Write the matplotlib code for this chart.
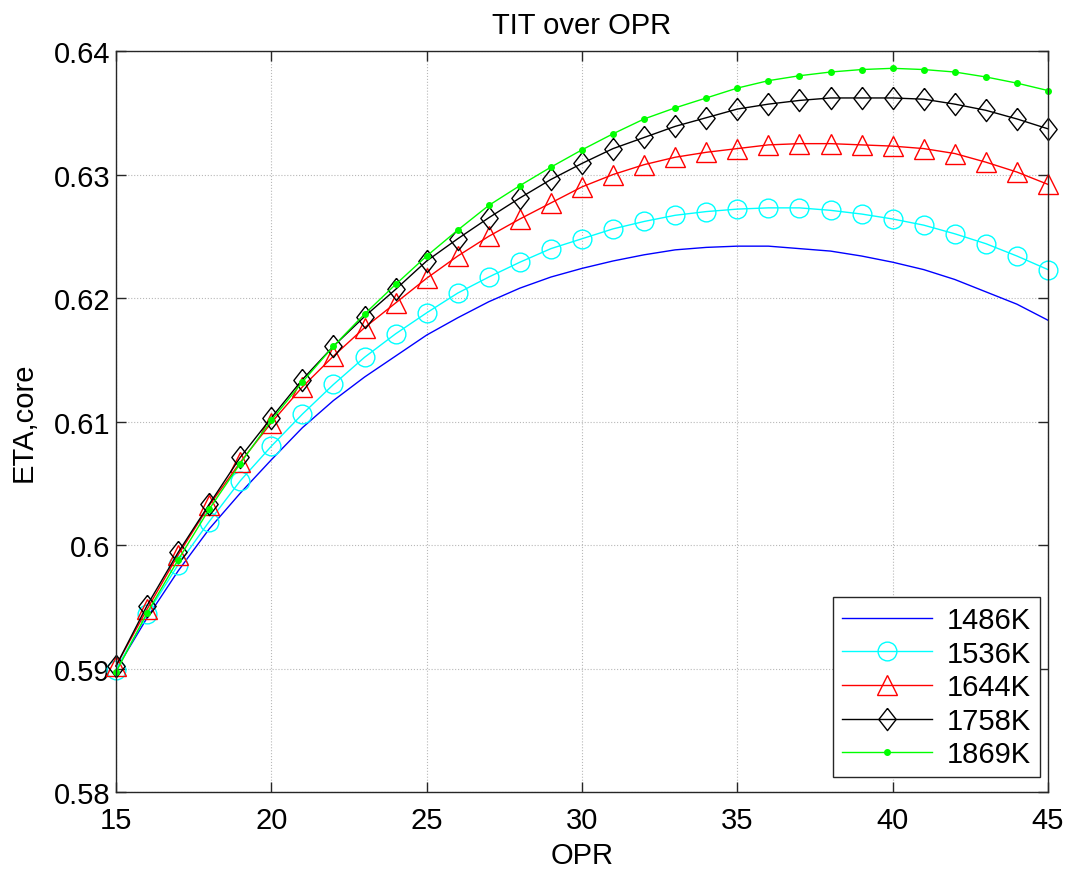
import numpy as np
import matplotlib
matplotlib.use("Agg")
import matplotlib.pyplot as plt

plt.rcParams['font.family'] = ['Liberation Sans', 'DejaVu Sans']

# OPR values 15..45
opr = list(range(15, 46))

eta_1486 = [0.5899, 0.5941, 0.5979, 0.6013, 0.6042, 0.6069, 0.6095, 0.6117, 0.6136, 0.6153,
            0.6170, 0.6184, 0.6197, 0.6208, 0.6217, 0.6224, 0.6230, 0.6235, 0.6239, 0.6241,
            0.6242, 0.6242, 0.6240, 0.6238, 0.6234, 0.6229, 0.6223, 0.6215, 0.6205, 0.6195,
            0.6182]
eta_1536 = [0.5899, 0.5944, 0.5984, 0.6019, 0.6052, 0.6080, 0.6106, 0.6130, 0.6152, 0.6171,
            0.6188, 0.6204, 0.6217, 0.6229, 0.6240, 0.6248, 0.6256, 0.6262, 0.6267, 0.6270,
            0.6272, 0.6273, 0.6273, 0.6271, 0.6268, 0.6264, 0.6259, 0.6252, 0.6244, 0.6234,
            0.6223]
eta_1644 = [0.5902, 0.5948, 0.5992, 0.6032, 0.6067, 0.6099, 0.6128, 0.6153, 0.6176, 0.6196,
            0.6216, 0.6234, 0.6250, 0.6264, 0.6277, 0.6290, 0.6300, 0.6308, 0.6314, 0.6318,
            0.6321, 0.6324, 0.6325, 0.6325, 0.6324, 0.6323, 0.6321, 0.6317, 0.6310, 0.6302,
            0.6292]
eta_1758 = [0.5902, 0.5951, 0.5994, 0.6033, 0.6071, 0.6103, 0.6134, 0.6161, 0.6185, 0.6207,
            0.6230, 0.6248, 0.6265, 0.6281, 0.6296, 0.6309, 0.6321, 0.6330, 0.6339, 0.6346,
            0.6353, 0.6357, 0.6360, 0.6362, 0.6362, 0.6362, 0.6361, 0.6357, 0.6352, 0.6345,
            0.6337]
eta_1869 = [0.5897, 0.5945, 0.5988, 0.6029, 0.6066, 0.6101, 0.6132, 0.6161, 0.6187, 0.6211,
            0.6234, 0.6255, 0.6275, 0.6291, 0.6306, 0.6320, 0.6333, 0.6345, 0.6354, 0.6362,
            0.6370, 0.6376, 0.6380, 0.6383, 0.6385, 0.6386, 0.6385, 0.6383, 0.6379, 0.6374,
            0.6368]

labels = ["1486K", "1536K", "1644K", "1758K", "1869K"]

# matlab style diamond (taller than wide)
diamond = [(0, 1), (0.78, 0), (0, -1), (-0.78, 0), (0, 1)]

fig = plt.figure(figsize=(10.75, 8.7), dpi=100)
ax = fig.add_axes([0.1079, 0.0885, 0.8670, 0.8517])

ax.plot(opr, eta_1486, color="#0000ff", lw=1.0, label=labels[0])
ax.plot(opr, eta_1536, color="#00ffff", lw=1.0, marker="o", markersize=13.5,
        markerfacecolor="none", markeredgewidth=1.0, label=labels[1], clip_on=False)
ax.plot(opr, eta_1644, color="#ff0000", lw=1.0, marker="^", markersize=14,
        markerfacecolor="none", markeredgewidth=1.0, label=labels[2], clip_on=False)
ax.plot(opr, eta_1758, color="#000000", lw=1.0, marker=diamond, markersize=16,
        markerfacecolor="none", markeredgewidth=1.0, label=labels[3], clip_on=False)
ax.plot(opr, eta_1869, color="#00ff00", lw=1.0, marker=".", markersize=8,
        label=labels[4], clip_on=False)

ax.set_xlim(15, 45)
ax.set_ylim(0.58, 0.64)
ax.set_xticks([15, 20, 25, 30, 35, 40, 45])
ax.set_yticks([0.58, 0.59, 0.6, 0.61, 0.62, 0.63, 0.64])
ax.set_yticklabels(["0.58", "0.59", "0.6", "0.61", "0.62", "0.63", "0.64"])

ax.tick_params(direction="in", length=7, width=1, top=True, right=True,
               labelsize=21, colors="#262626", labelcolor="black")
ax.tick_params(axis="x", pad=10)
ax.tick_params(axis="y", pad=4)
for s in ax.spines.values():
    s.set_color("#262626")
    s.set_linewidth(1.0)

ax.grid(True, color="#b8b8b8", linestyle=":", linewidth=0.8)

ax.set_title("TIT over OPR", fontsize=21, pad=13)
ax.set_xlabel("OPR", fontsize=21, labelpad=5)
ax.set_ylabel("ETA,core", fontsize=21, labelpad=12)

leg = ax.legend(loc="lower right", bbox_to_anchor=(1 - 8 / 932, 15 / 741),
                fontsize=21, fancybox=False, framealpha=1, edgecolor="#262626",
                handlelength=3.1, borderaxespad=0, labelspacing=0.19,
                borderpad=0.3, handletextpad=0.5)
leg.get_frame().set_linewidth(1.0)

fig.savefig("out.png", dpi=100)
